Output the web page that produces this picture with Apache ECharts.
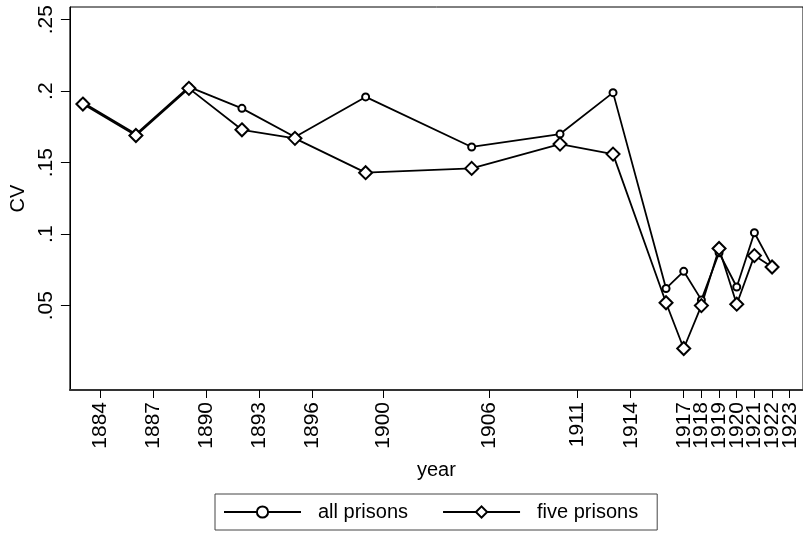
<!DOCTYPE html>
<html>
<head>
<meta charset="utf-8">
<script src="https://cdn.jsdelivr.net/npm/echarts@6/dist/echarts.min.js"></script>
<style>
  html, body { margin: 0; padding: 0; background: #fff; }
  #chart { width: 803px; height: 538px; }
</style>
</head>
<body>
<div id="chart"></div>
<script>
const years = [1883, 1886, 1889, 1892, 1895, 1899, 1905, 1910, 1913, 1916, 1917, 1918, 1919, 1920, 1921, 1922];
const allPrisons = [0.192, 0.170, 0.203, 0.188, 0.168, 0.196, 0.161, 0.170, 0.199, 0.062, 0.074, 0.054, 0.087, 0.063, 0.101, 0.078];
const fivePrisons = [0.191, 0.169, 0.202, 0.173, 0.167, 0.143, 0.146, 0.163, 0.156, 0.052, 0.020, 0.050, 0.090, 0.051, 0.085, 0.077];
const yearTicks = [1884, 1887, 1890, 1893, 1896, 1900, 1906, 1911, 1914, 1917, 1918, 1919, 1920, 1921, 1922, 1923];
const cvTicks = [0.05, 0.1, 0.15, 0.2, 0.25];

const FONT = 'Liberation Sans';
const INK = '#000';
const X_MIN = 1882.265, X_MAX = 1923.75;

const chart = echarts.init(document.getElementById('chart'), null, { renderer: 'canvas' });

function pairs(vals) {
  return years.map((y, i) => [y, vals[i]]);
}

// the tightly packed 1917-1923 labels trip ECharts' end-label overlap check,
// so the year ticks are split over two identical bottom axes
const ticksA = yearTicks.filter((_, i) => i % 2 === 0);
const ticksB = yearTicks.filter((_, i) => i % 2 === 1);

function yearAxis(ticks, main) {
  return {
    type: 'value',
    min: X_MIN, max: X_MAX,
    position: 'bottom',
    name: main ? 'year' : '', nameLocation: 'middle', nameGap: 70,
    nameTextStyle: { fontFamily: FONT, fontSize: 20, color: INK },
    axisLine: { show: main, onZero: false, lineStyle: { color: '#333', width: 2 } },
    axisTick: { show: true, length: 8, lineStyle: { color: INK }, customValues: ticks },
    axisLabel: {
      customValues: ticks, rotate: 90, margin: 12,
      fontFamily: FONT, fontSize: 21, color: INK,
      formatter: (v) => String(Math.round(v))
    },
    splitLine: { show: false }
  };
}

chart.setOption({
  backgroundColor: '#fff',
  animation: false,
  textStyle: { fontFamily: FONT, color: INK },
  grid: {
    left: 68, top: 7, width: 737, height: 383,
    show: true, borderColor: INK, borderWidth: 1, backgroundColor: '#fff'
  },
  legend: {
    left: 215, top: 494,
    padding: [8, 19, 8, 8],
    itemWidth: 77, itemHeight: 14, itemGap: 34,
    borderColor: '#444', borderWidth: 1,
    textStyle: { fontFamily: FONT, fontSize: 20, color: INK, padding: [0, 0, 0, 12] },
    data: ['all prisons', 'five prisons']
  },
  xAxis: [yearAxis(ticksA, true), yearAxis(ticksB, false)],
  yAxis: {
    type: 'value',
    min: -0.00903, max: 0.2589,
    name: 'CV', nameLocation: 'middle', nameGap: 39, nameRotate: 90,
    nameTextStyle: { fontFamily: FONT, fontSize: 20, color: INK },
    axisLine: { show: true, onZero: false, lineStyle: { color: INK, width: 1 } },
    axisTick: { show: true, length: 9, lineStyle: { color: INK }, customValues: cvTicks },
    axisLabel: {
      customValues: cvTicks, rotate: 90, margin: 13,
      fontFamily: FONT, fontSize: 21, color: INK,
      formatter: (v) => String(+v.toFixed(2)).replace(/^0\./, '.')
    },
    splitLine: { show: false }
  },
  series: [
    {
      name: 'all prisons',
      type: 'line',
      xAxisIndex: 0,
      data: pairs(allPrisons),
      symbol: 'emptyCircle', symbolSize: 7,
      lineStyle: { color: INK, width: 1.8 },
      itemStyle: { color: INK, borderColor: INK, borderWidth: 2 }
    },
    {
      name: 'five prisons',
      type: 'line',
      xAxisIndex: 0,
      data: pairs(fivePrisons),
      symbol: 'emptyDiamond', symbolSize: 13,
      lineStyle: { color: INK, width: 1.8 },
      itemStyle: { color: INK, borderColor: INK, borderWidth: 1.7 }
    }
  ]
});
</script>
</body>
</html>
